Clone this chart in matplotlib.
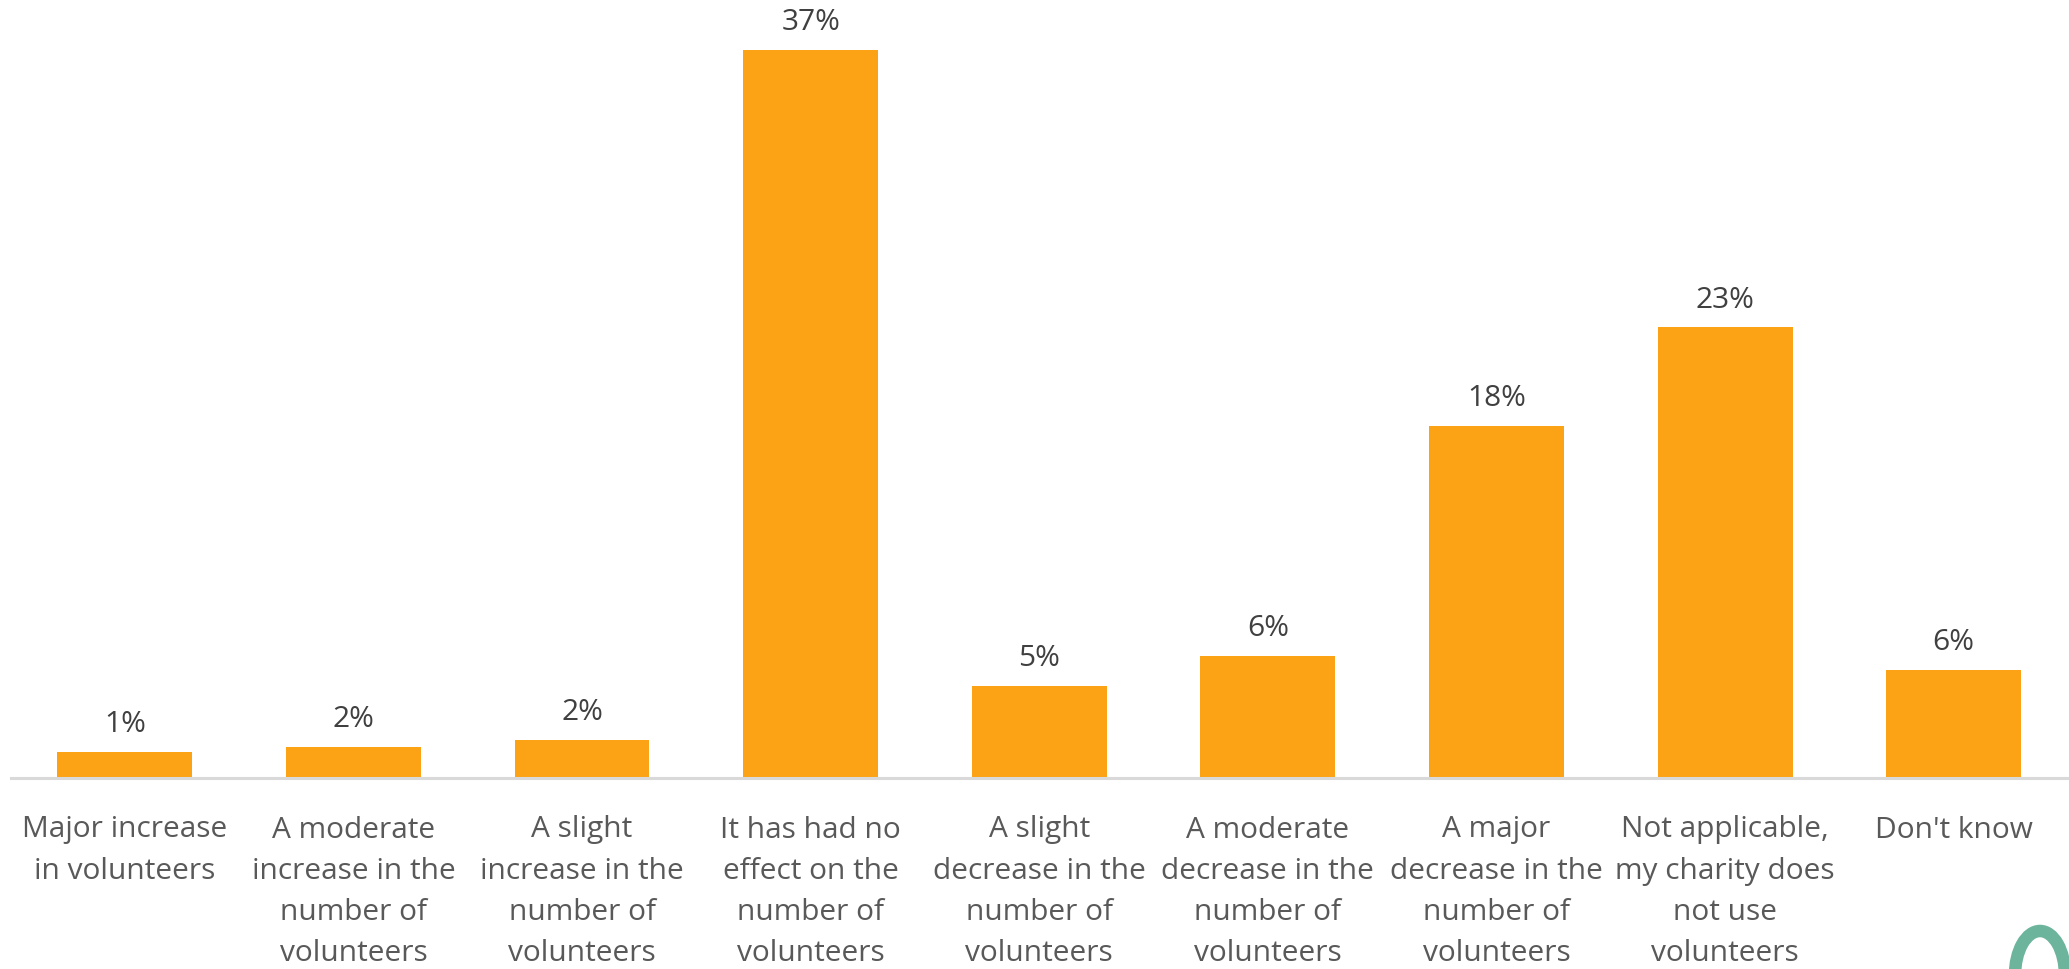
import matplotlib
matplotlib.use("Agg")
import matplotlib.pyplot as plt
from matplotlib.patches import Ellipse

categories = [
    "Major increase\nin volunteers",
    "A moderate\nincrease in the\nnumber of\nvolunteers",
    "A slight\nincrease in the\nnumber of\nvolunteers",
    "It has had no\neffect on the\nnumber of\nvolunteers",
    "A slight\ndecrease in the\nnumber of\nvolunteers",
    "A moderate\ndecrease in the\nnumber of\nvolunteers",
    "A major\ndecrease in the\nnumber of\nvolunteers",
    "Not applicable,\nmy charity does\nnot use\nvolunteers",
    "Don't know",
]
values = [1.32, 1.59, 1.93, 37.0, 4.7, 6.2, 17.9, 22.9, 5.5]
labels = ["1%", "2%", "2%", "37%", "5%", "6%", "18%", "23%", "6%"]

W, H = 2069, 969
fig = plt.figure(figsize=(W / 100, H / 100), dpi=100)
base = 778
left = 10.5
right = 2068
ax = fig.add_axes([left / W, (H - base) / H, (right - left) / W, base / H])
ax.set_xlim(-0.5, len(categories) - 0.5)
ax.set_ylim(0, 37.0 * base / 728)

x = list(range(len(categories)))
ax.bar(x, values, width=0.59, color="#FCA315", zorder=2)
for xi, v, lab in zip(x, values, labels):
    ax.text(xi, v + 0.65, lab, ha="center", va="bottom", fontsize=21.5,
            color="#404040", family="Open Sans")

for s in ["top", "right", "left"]:
    ax.spines[s].set_visible(False)
ax.spines["bottom"].set_color("#d9d9d9")
ax.spines["bottom"].set_linewidth(2.2)
ax.set_yticks([])
ax.set_xticks(x)
ax.set_xticklabels(categories, fontsize=21.5, color="#595959", family="Open Sans",
                   linespacing=1.55)
ax.tick_params(axis="x", length=0, pad=27)
ax.patch.set_alpha(0)

# partial logo shape at bottom right
ell = Ellipse((2040 / W, 1 - 975 / H), 50 / W, 88 / H, transform=fig.transFigure,
              fill=False, edgecolor="#6cb49c", linewidth=9, clip_on=False)
fig.patches.append(ell)

fig.savefig("out.png", dpi=100, facecolor="white")
